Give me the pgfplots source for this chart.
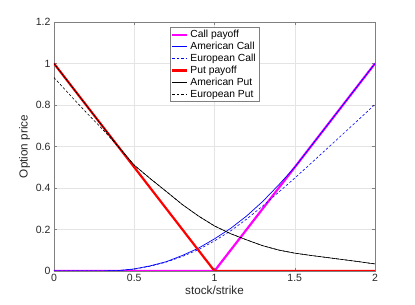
\documentclass[border=0pt]{standalone}
\usepackage{fontspec}
\setmainfont{Liberation Sans}
\usepackage{pgfplots}
\pgfplotsset{compat=1.18}
\definecolor{axgray}{RGB}{128,128,128}
\definecolor{txtgray}{RGB}{38,38,38}
\definecolor{gridgray}{RGB}{228,228,228}
\definecolor{mymag}{rgb}{1,0,1}
\begin{document}
\begin{tikzpicture}
\begin{axis}[
  at={(0pt,0pt)}, anchor=south west,
  scale only axis, width=321pt, height=249pt,
  xmin=0, xmax=2, ymin=0, ymax=1.2,
  xtick={0,0.5,1,1.5,2}, ytick={0,0.2,0.4,0.6,0.8,1,1.2},
  xticklabels={0,0.5,1,1.5,2},
  yticklabels={0,0.2,0.4,0.6,0.8,1,1.2},
  grid=major, major grid style={gridgray, line width=0.5pt},
  axis line style={axgray, line width=0.5pt},
  tick style={axgray, line width=0.5pt},
  tick align=inside, major tick length=3pt,
  xtick pos=both, ytick pos=both,
  tick label style={font=\fontsize{10.5}{12}\selectfont, text=txtgray},
  /pgf/number format/assume math mode=true,
  xlabel={stock/strike}, ylabel={Option price},
  label style={font=\fontsize{11.7}{13}\selectfont, text=txtgray},
  xlabel style={yshift=3pt},
  ylabel style={yshift=-1pt},
  legend style={at={(0.5,0.98)}, anchor=north, draw=axgray, fill=white,
    font=\fontsize{10.3}{11}\selectfont, text=black, inner sep=1pt, row sep=-1pt,
    /tikz/every even column/.append style={column sep=0pt}},
  legend cell align=left,
  legend image code/.code={\draw[#1] (0pt,0pt) -- (15pt,0pt);},
]
\addplot[mymag, line width=2.2pt] coordinates {(0,0) (1,0) (2,1)};
\addlegendentry{Call payoff}
\addplot[blue, line width=0.7pt] coordinates {
(0,0) (0.1,0) (0.2,0) (0.3,0.0003) (0.4,0.002) (0.5,0.01) (0.6,0.025) (0.7,0.045)
(0.8,0.075) (0.9,0.11) (1.0,0.155) (1.1,0.205) (1.2,0.265) (1.3,0.335) (1.4,0.415)
(1.5,0.5) (1.6,0.6) (1.7,0.7) (1.8,0.8) (1.9,0.9) (2.0,1.0)};
\addlegendentry{American Call}
\addplot[blue, line width=0.6pt, dash pattern=on 2.5pt off 2pt] coordinates {
(0,0) (0.1,0) (0.2,0) (0.3,0.0003) (0.4,0.002) (0.5,0.009) (0.6,0.023) (0.7,0.043)
(0.8,0.07) (0.9,0.103) (1.0,0.145) (1.1,0.193) (1.2,0.25) (1.3,0.313) (1.4,0.38)
(1.5,0.448) (1.6,0.518) (1.7,0.589) (1.8,0.66) (1.9,0.731) (2.0,0.803)};
\addlegendentry{European Call}
\addplot[red, line width=2.2pt] coordinates {(0,1) (1,0) (2,0)};
\addlegendentry{Put payoff}
\addplot[black, line width=0.6pt] coordinates {
(0,1) (0.1,0.9) (0.2,0.8) (0.3,0.7) (0.4,0.6) (0.5,0.51) (0.6,0.445) (0.7,0.383)
(0.8,0.32) (0.9,0.265) (1.0,0.217) (1.1,0.18) (1.2,0.15) (1.3,0.122) (1.4,0.101)
(1.5,0.086) (1.6,0.075) (1.7,0.065) (1.8,0.055) (1.9,0.045) (2.0,0.034)};
\addlegendentry{American Put}
\addplot[black, line width=0.6pt, dash pattern=on 2.5pt off 2pt] coordinates {
(0,0.932) (0.1,0.848) (0.2,0.765) (0.3,0.685) (0.4,0.6) (0.5,0.51) (0.6,0.445) (0.7,0.383)
(0.8,0.32) (0.9,0.265) (1.0,0.217) (1.1,0.18) (1.2,0.15) (1.3,0.122) (1.4,0.101)
(1.5,0.086) (1.6,0.075) (1.7,0.065) (1.8,0.055) (1.9,0.045) (2.0,0.034)};
\addlegendentry{European Put}
\end{axis}
\pgfresetboundingbox
\path[use as bounding box] (-54pt,-34pt) rectangle (361pt,271pt);
\end{tikzpicture}
\end{document}
